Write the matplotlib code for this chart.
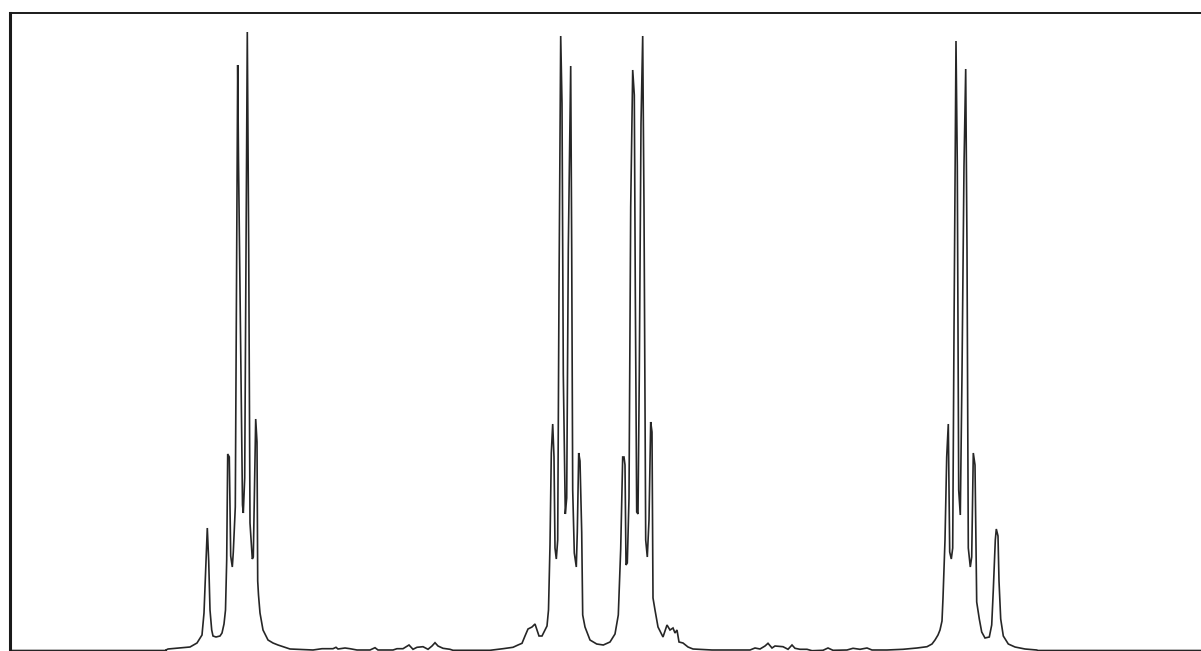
import numpy as np
import matplotlib
matplotlib.use("Agg")
import matplotlib.pyplot as plt

# spectrum trace (x = position, h = intensity above baseline)
base_left_x = [9, 166]
base_left_h = [-0.5, -0.5]

group1_x = [166, 168, 190, 197, 202, 204, 206, 207.3, 208.7, 210, 211.7, 213, 216, 220, 222,
            224, 225.5, 226.7, 227.7, 229.3, 230.7, 232.3, 233.3, 235.3, 237.7, 238.5, 242.5,
            243.3, 244.7, 247.3, 248.7, 250, 252.3, 253.3, 255, 255.7, 257, 257.7, 258.5, 260,
            263, 268, 273, 278, 290]
group1_h = [0, 1, 3, 7, 15, 37, 87, 122, 89, 40, 20, 14, 13, 14, 17,
            26, 40, 90, 196, 193, 94, 83, 98, 143, 585, 490, 145,
            137, 172, 618, 401, 127, 91, 93, 193, 231, 208, 69, 55, 37,
            20, 10, 7, 5, 1]

noise1_x = [313, 322, 333, 336, 338, 345, 350, 357, 370, 375, 378, 393, 397, 403, 409, 413,
            417, 423, 428, 432, 435, 438, 443, 450, 453, 490, 503, 513, 518, 522]
noise1_h = [0, 1.3, 1.3, 2.7, 1, 2, 1.3, 0, 0, 2.3, 0, 0, 1.3, 1.3, 5, 0.7,
            2.7, 3.3, 0.7, 4, 7.3, 4, 1.7, 0.7, -0.3, -0.3, 1.3, 2.7, 5, 6.7]

group2_x = [525, 528, 532, 535, 537, 539, 542, 545, 547, 548.5, 550, 551.3, 552.7, 554, 555,
            556.3, 557.7, 559, 560.7, 562, 563.3, 565.3, 566.7, 568.3, 570.7, 571.7, 572.7,
            574.3, 576.3, 577.3, 578.7, 580, 581.7, 582.7, 585, 590, 596.7, 603.3, 610, 615,
            618.3, 620.7, 622.7, 624, 625, 626, 627.3, 629, 630.7, 632.7, 634.3, 635.3, 636.7,
            638, 639.3, 641, 642.7, 644, 645.7, 647.3, 649, 650.7, 652, 653]
group2_h = [14, 21, 23, 26, 20, 14, 14, 20, 24, 40, 105, 197, 226, 193, 102,
            91, 110, 360, 614, 547, 276, 136, 152, 401, 584, 401, 160,
            97, 83, 118, 197, 189, 118, 35, 23, 10, 6, 5, 8, 16,
            35, 101, 193, 193, 185, 85, 87, 152, 443, 580, 555, 360, 138,
            136, 276, 526, 614, 443, 110, 93, 130, 228, 218, 52]

noise2_x = [655, 658, 662, 663, 667, 670, 673, 675, 677, 679, 683, 688, 693, 712, 750, 755,
            760, 765, 768, 772, 775, 783, 788, 792, 795, 800, 807, 812, 823, 828, 833, 847,
            853, 860, 867, 872, 887, 903, 917, 927, 932, 935, 938, 940]
noise2_h = [40, 23, 15, 13, 25, 20, 22, 17, 20, 8, 7, 3, 1, 0, 0, 2,
            1, 4, 6.7, 2, 4, 3.3, 0.7, 5, 1.7, 0.7, 0.7, -0.7, -0.3, 2, -0.3, 0,
            1.7, 0.7, 2, 0, 0, 0.7, 2, 3.3, 6, 10, 15, 20]

group3_x = [942, 943, 945, 946.7, 948.3, 949.7, 951.3, 952.7, 954, 956, 957.3, 958.7, 960.3,
            962, 964, 965.7, 967, 968.3, 970.3, 971.7, 973.3, 975, 976.7, 979.3, 981.7, 985,
            989.3, 991.7, 993.3, 995.3, 996.3, 998, 999, 1000.7, 1003.3, 1008.3, 1015, 1025,
            1036.7, 1038, 1201]
group3_h = [29, 52, 110, 193, 226, 98, 91, 102, 318, 609, 484, 160, 135,
            276, 484, 581, 401, 102, 83, 93, 197, 185, 48, 31, 18, 12,
            13, 25, 60, 110, 121, 114, 69, 31, 14, 6, 3, 1,
            0, -0.5, -0.5]

x = np.concatenate([base_left_x, group1_x, noise1_x, group2_x, noise2_x, group3_x])
h = np.concatenate([base_left_h, group1_h, noise1_h, group2_h, noise2_h, group3_h])

fig = plt.figure(figsize=(12.01, 6.51), dpi=100)
ax = fig.add_axes([9.5 / 1201, 0, 1 - 9.5 / 1201, (651 - 12.7) / 651])

ax.plot(x, h, color="#262626", lw=1.2, solid_joinstyle="miter")

ax.set_xlim(9.5, 1201)
ax.set_ylim(-1, 637.3)
ax.set_xticks([])
ax.set_yticks([])
ax.spines["right"].set_visible(False)
ax.spines["bottom"].set_visible(False)
ax.spines["left"].set_linewidth(2.2)
ax.spines["top"].set_linewidth(1.4)
ax.spines["left"].set_color("#1a1a1a")
ax.spines["top"].set_color("#1a1a1a")

fig.savefig("out.png", dpi=100)
